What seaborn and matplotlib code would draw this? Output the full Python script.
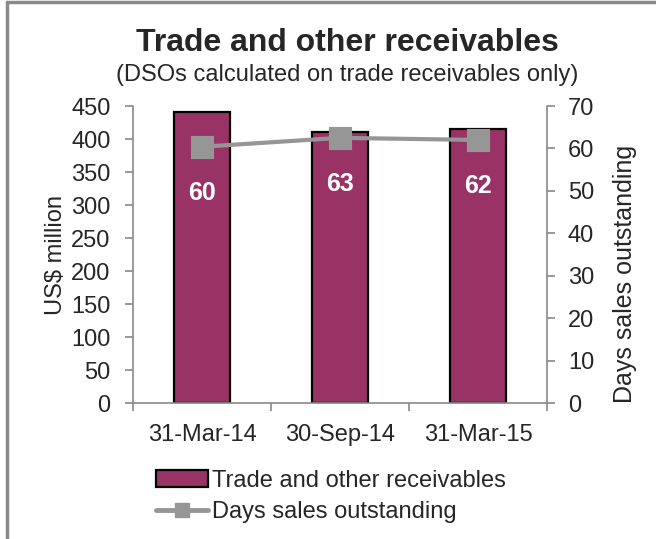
import matplotlib
matplotlib.use('Agg')
import matplotlib.pyplot as plt
import seaborn as sns
from matplotlib.lines import Line2D
from matplotlib.patches import Patch

dates = ['31-Mar-14', '30-Sep-14', '31-Mar-15']
receivables = [441, 410, 415]
dso = [60.4, 62.5, 62.0]
dso_labels = ['60', '63', '62']

BAR_COLOR = '#993366'
LINE_COLOR = '#969696'
SPINE_COLOR = '#898989'
FS = 17


def main():
    sns.set_style('white')
    plt.rcParams['font.family'] = ['Liberation Sans', 'DejaVu Sans']

    fig = plt.figure(figsize=(6.56, 5.39), dpi=100)
    ax = fig.add_axes([0.2027, 0.2523, 0.6311, 0.551])

    sns.barplot(x=dates, y=receivables, ax=ax, color=BAR_COLOR, width=0.41,
                edgecolor='black', linewidth=1.6, saturation=1)
    ax.set_ylim(0, 450)
    ax.set_yticks(range(0, 451, 50))
    ax.set_xlim(-0.5, 2.5)

    ax2 = ax.twinx()
    sns.pointplot(x=dates, y=dso, ax=ax2, color=LINE_COLOR, markers='s',
                  markersize=15, linewidth=3)
    ax2.set_ylim(0, 70)
    ax2.set_yticks(range(0, 71, 10))
    ax2.set_xlim(-0.5, 2.5)

    for i, lab in enumerate(dso_labels):
        ax2.annotate(lab, (i, dso[i]), xytext=(0, -33), textcoords='offset points',
                     ha='center', va='center', color='white', fontsize=18,
                     fontweight='bold')

    # axes styling
    for a in (ax, ax2):
        for side in ('left', 'right', 'bottom'):
            a.spines[side].set_color(SPINE_COLOR)
            a.spines[side].set_linewidth(1.2)
        a.spines['top'].set_visible(False)
    ax.spines['right'].set_visible(False)
    ax2.spines['left'].set_visible(False)
    ax2.spines['bottom'].set_visible(False)

    ax.set_xticks([-0.5, 0.5, 1.5, 2.5], minor=False)
    ax.set_xticklabels([])
    ax.set_xticks([0, 1, 2], minor=True)
    ax.set_xticklabels(dates, minor=True, fontsize=FS)
    ax.tick_params(axis='x', which='major', direction='out', length=6,
                   color=SPINE_COLOR, width=1.2, bottom=True)
    ax.tick_params(axis='x', which='minor', length=0, pad=15)
    ax.tick_params(axis='y', direction='out', length=6, color=SPINE_COLOR,
                   width=1.2, labelsize=FS, left=True, pad=10)
    ax2.tick_params(axis='y', direction='out', length=6, color=SPINE_COLOR,
                    width=1.2, labelsize=FS, right=True, pad=9)
    ax2.tick_params(axis='x', bottom=False, labelbottom=False)

    ax.set_xlabel('')
    ax.set_ylabel('US$ million', fontsize=FS, labelpad=3)
    ax2.set_ylabel('Days sales outstanding', fontsize=18)
    # the right title sits a bit lower than the axis middle in the original
    ax2.yaxis.set_label_coords(1.16, 0.436)

    fig.text(0.53, 0.921, 'Trade and other receivables', ha='center',
             va='center', fontsize=23, fontweight='bold')
    fig.text(0.53, 0.86, '(DSOs calculated on trade receivables only)',
             ha='center', va='center', fontsize=FS)

    handles = [
        Patch(facecolor=BAR_COLOR, edgecolor='black', linewidth=1.6),
        Line2D([], [], color=LINE_COLOR, linewidth=3.5, marker='s', markersize=10),
    ]
    fig.legend(handles, ['Trade and other receivables', 'Days sales outstanding'],
               loc='upper left', bbox_to_anchor=(0.238, 0.128), frameon=False,
               fontsize=FS, handlelength=2.2, handletextpad=0.15,
               labelspacing=0.4, borderpad=0, borderaxespad=0)

    # outer chart border (top and left visible)
    fig.add_artist(Line2D([0.0105, 1.0], [0.9955, 0.9955], color=SPINE_COLOR,
                          linewidth=2.5, transform=fig.transFigure))
    fig.add_artist(Line2D([0.0105, 0.0105], [0.0, 0.9955], color=SPINE_COLOR,
                          linewidth=2.5, transform=fig.transFigure))

    fig.savefig('out.png', dpi=100, facecolor='white')


if __name__ == '__main__':
    main()
